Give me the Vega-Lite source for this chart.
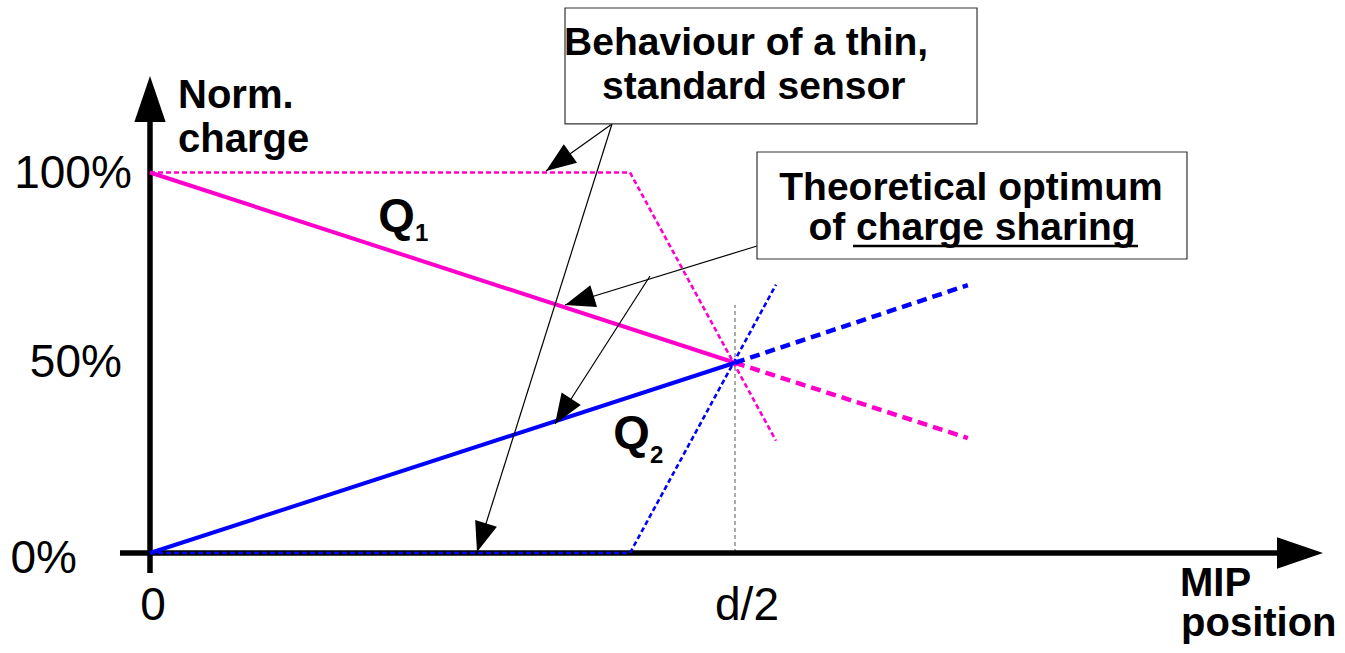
{
  "$schema": "https://vega.github.io/schema/vega-lite/v6.json",
  "width": 1345,
  "height": 653,
  "autosize": {"type": "fit", "contains": "padding"},
  "padding": 0,
  "background": "white",
  "config": {"view": {"stroke": null}, "text": {"font": "Liberation Sans"}},
  "datasets": {
    "axes": [{"x": 0, "y": -5.26, "x2": 0, "y2": 120}, {"x": -5.13, "y": 0, "x2": 195, "y2": 0}],
    "axisHeads": [{"x": 0, "y": 125.36, "angle": 0}, {"x": 200.51, "y": 0, "angle": 90}],
    "solid": [{"series": "Q1", "x": 0, "y": 100, "x2": 100, "y2": 50}, {"series": "Q2", "x": 0, "y": 0, "x2": 100, "y2": 50}],
    "thin": [
      {"series": "Q1", "x": 0, "y": 100, "x2": 82.05, "y2": 100},
      {"series": "Q1", "x": 82.05, "y": 100, "x2": 107, "y2": 29.5},
      {"series": "Q2", "x": 0, "y": 0, "x2": 82.05, "y2": 0},
      {"series": "Q2", "x": 82.05, "y": 0, "x2": 107, "y2": 70.5}
    ],
    "thick": [{"series": "Q1", "x": 100, "y": 50, "x2": 139.8, "y2": 30.2}, {"series": "Q2", "x": 100, "y": 50, "x2": 139.8, "y2": 70.4}],
    "mid": [{"x": 100, "y": 0, "x2": 100, "y2": 65.2}],
    "pointers": [
      {"x": 78.97, "y": 112.75, "x2": 67.69, "y2": 100.39},
      {"x": 78.97, "y": 112.75, "x2": 55.9, "y2": 0.26},
      {"x": 103.76, "y": 80.68, "x2": 70.94, "y2": 65.18},
      {"x": 85.47, "y": 72.8, "x2": 69.23, "y2": 33.9}
    ],
    "pointerHeads": [
      {"x": 67.69, "y": 100.39, "angle": 234.5},
      {"x": 55.9, "y": 0.26, "angle": 197.5},
      {"x": 70.94, "y": 65.18, "angle": 253},
      {"x": 69.23, "y": 33.9, "angle": 212.7}
    ],
    "boxes": [{"x": 70.94, "y": 143.23, "x2": 141.37, "y2": 112.75}, {"x": 103.76, "y": 105.39, "x2": 177.26, "y2": 77.27}],
    "underline": [{"x": 120.17, "y": 80.68, "x2": 168.89, "y2": 80.68}],
    "ticksR": [{"label": "100%", "x": -3.1, "y": 95.93}, {"label": "50%", "x": -4.8, "y": 46.26}, {"label": "0%", "x": -12.48, "y": -5.26}],
    "ticksC": [{"label": "0", "x": 0.51, "y": -17.61}, {"label": "d/2", "x": 102.05, "y": -17.61}],
    "titles": [{"label": "Norm.", "x": 4.79, "y": 116.95}, {"label": "charge", "x": 4.79, "y": 105.39}, {"label": "MIP", "x": 176.07, "y": -11.3}, {"label": "position", "x": 176.24, "y": -21.8}],
    "boxText": [{"label": "Behaviour of a thin,", "x": 101.9, "y": 130.88}, {"label": "standard sensor", "x": 103.2, "y": 119.32}, {"label": "Theoretical optimum", "x": 140.34, "y": 92.77}, {"label": "of charge sharing", "x": 140.51, "y": 82.26}],
    "qLabels": [{"label": "Q", "x": 39.0, "y": 84.6}, {"label": "Q", "x": 79.2, "y": 27.6}],
    "qSubs": [{"label": "1", "x": 45.3, "y": 82.0}, {"label": "2", "x": 85.47, "y": 23.65}]
  },
  "encoding": {
    "x": {"field": "x", "type": "quantitative", "scale": {"domain": [-25.64, 204.27], "nice": false, "zero": false}, "axis": null},
    "y": {"field": "y", "type": "quantitative", "scale": {"domain": [-26.28, 145.33], "nice": false, "zero": false}, "axis": null}
  },
  "layer": [
    {
      "data": {"name": "mid"},
      "mark": {"type": "rule", "color": "#555555", "strokeWidth": 1, "strokeDash": [4, 3]},
      "encoding": {"x2": {"field": "x2"}, "y2": {"field": "y2"}}
    },
    {
      "data": {"name": "axes"},
      "mark": {"type": "rule", "color": "black", "strokeWidth": 5.5},
      "encoding": {"x2": {"field": "x2"}, "y2": {"field": "y2"}}
    },
    {
      "data": {"name": "axisHeads"},
      "mark": {"type": "point", "shape": "M0,0L0.34,1L-0.34,1Z", "filled": true, "opacity": 1, "color": "black", "strokeWidth": 0, "size": 8464},
      "encoding": {"angle": {"field": "angle", "type": "quantitative", "scale": null}}
    },
    {
      "data": {"name": "thin"},
      "mark": {"type": "rule", "strokeWidth": 2.6, "strokeDash": [5, 3]},
      "encoding": {"x2": {"field": "x2"}, "y2": {"field": "y2"}, "color": {"field": "series", "type": "nominal", "scale": {"domain": ["Q1", "Q2"], "range": ["#ff00cc", "#0000ff"]}, "legend": null}}
    },
    {
      "data": {"name": "solid"},
      "mark": {"type": "rule", "strokeWidth": 4},
      "encoding": {"x2": {"field": "x2"}, "y2": {"field": "y2"}, "color": {"field": "series", "type": "nominal", "scale": {"domain": ["Q1", "Q2"], "range": ["#ff00cc", "#0000ff"]}, "legend": null}}
    },
    {
      "data": {"name": "thick"},
      "mark": {"type": "rule", "strokeWidth": 4.5, "strokeDash": [10, 6]},
      "encoding": {"x2": {"field": "x2"}, "y2": {"field": "y2"}, "color": {"field": "series", "type": "nominal", "scale": {"domain": ["Q1", "Q2"], "range": ["#ff00cc", "#0000ff"]}, "legend": null}}
    },
    {
      "data": {"name": "pointers"},
      "mark": {"type": "rule", "color": "black", "strokeWidth": 1.2},
      "encoding": {"x2": {"field": "x2"}, "y2": {"field": "y2"}}
    },
    {
      "data": {"name": "pointerHeads"},
      "mark": {"type": "point", "shape": "M0,0L0.38,1L-0.38,1Z", "filled": true, "opacity": 1, "color": "black", "strokeWidth": 0, "size": 3600},
      "encoding": {"angle": {"field": "angle", "type": "quantitative", "scale": null}}
    },
    {
      "data": {"name": "boxes"},
      "mark": {"type": "rect", "fill": "white", "stroke": "#333333", "strokeWidth": 1.2},
      "encoding": {"x2": {"field": "x2"}, "y2": {"field": "y2"}}
    },
    {
      "data": {"name": "underline"},
      "mark": {"type": "rule", "color": "black", "strokeWidth": 2.5},
      "encoding": {"x2": {"field": "x2"}, "y2": {"field": "y2"}}
    },
    {
      "data": {"name": "ticksR"},
      "mark": {"type": "text", "align": "right", "baseline": "alphabetic", "fontSize": 46, "color": "black"},
      "encoding": {"text": {"field": "label"}}
    },
    {
      "data": {"name": "ticksC"},
      "mark": {"type": "text", "align": "center", "baseline": "alphabetic", "fontSize": 46, "color": "black"},
      "encoding": {"text": {"field": "label"}}
    },
    {
      "data": {"name": "titles"},
      "mark": {"type": "text", "align": "left", "baseline": "alphabetic", "fontSize": 40, "fontWeight": "bold", "color": "black"},
      "encoding": {"text": {"field": "label"}}
    },
    {
      "data": {"name": "boxText"},
      "mark": {"type": "text", "align": "center", "baseline": "alphabetic", "fontSize": 39, "fontWeight": "bold", "color": "black"},
      "encoding": {"text": {"field": "label"}}
    },
    {
      "data": {"name": "qLabels"},
      "mark": {"type": "text", "align": "left", "baseline": "alphabetic", "fontSize": 47, "fontWeight": "bold", "color": "black"},
      "encoding": {"text": {"field": "label"}}
    },
    {
      "data": {"name": "qSubs"},
      "mark": {"type": "text", "align": "left", "baseline": "alphabetic", "fontSize": 24, "fontWeight": "bold", "color": "black"},
      "encoding": {"text": {"field": "label"}}
    }
  ]
}
